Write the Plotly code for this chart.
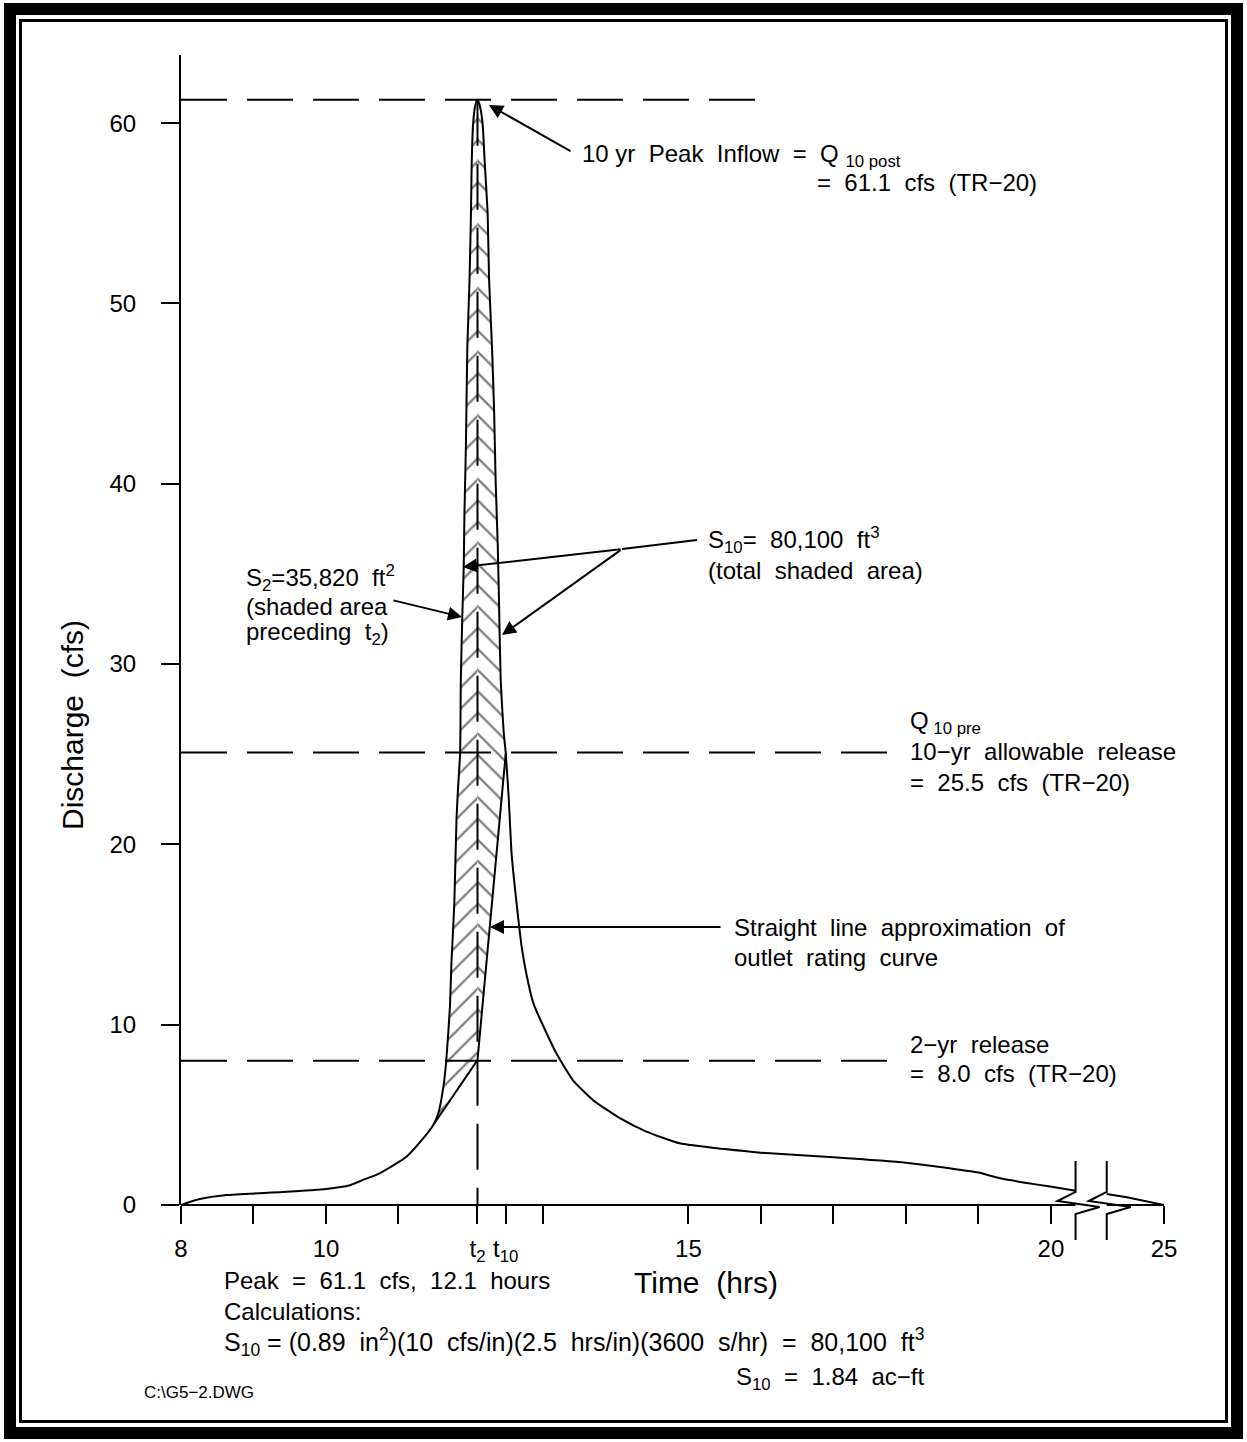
import plotly.graph_objects as go

# ---------------- data ----------------
# inflow hydrograph (real time in hours, discharge in cfs)
inflow_time = [8.0, 8.26, 8.63, 9.4, 10.0, 10.33, 10.51, 10.74, 11.11, 11.3, 11.48, 11.55,
               11.62, 11.66, 11.71, 11.73, 11.77, 11.80, 11.82, 11.85, 11.86, 11.88, 11.90,
               11.91, 11.92, 11.93, 11.95, 11.98, 12.00, 12.01, 12.03, 12.06, 12.09, 12.12,
               12.16, 12.19, 12.23, 12.25, 12.29, 12.32, 12.34, 12.37, 12.39, 12.41, 12.45,
               12.48, 12.52, 12.54, 12.56, 12.63, 12.70, 12.77, 12.86, 13.00, 13.18, 13.41,
               13.69, 14.06, 14.42, 14.88, 15.5, 16.0, 17.0, 18.0, 18.5, 19.0, 19.3, 19.64,
               19.99, 20.34]
inflow_q = [0.0, 0.33, 0.55, 0.72, 0.89, 1.1, 1.39, 1.76, 2.68, 3.5, 4.44, 5.09,
            6.56, 8.04, 11.0, 13.4, 16.7, 21.35, 23.0, 25.05, 29.1, 32.6, 35.4,
            38.4, 40.2, 42.1, 47.6, 51.3, 55.0, 57.8, 60.0, 61.0, 61.3, 61.0,
            60.0, 57.8, 55.0, 51.3, 47.6, 43.9, 40.2, 36.5, 32.8, 29.1, 26.3,
            25.05, 22.6, 21.0, 19.5, 16.7, 14.3, 12.7, 11.2, 9.9, 8.4, 6.9,
            5.8, 4.8, 4.07, 3.42, 3.1, 2.9, 2.65, 2.35, 2.1, 1.8, 1.48, 1.24,
            1.02, 0.79]
# tail of hydrograph after the axis break
tail_time = [24.0, 24.35, 25.0]
tail_q = [0.61, 0.43, 0.0]

# straight line approximation of outlet rating curve
outflow_time = [11.48, 12.09, 12.48]
outflow_q = [4.44, 8.04, 25.05]

T2 = 12.09
T10 = 12.48
Q_PEAK = 61.3
Q10_PRE = 25.1
Q2_REL = 8.0

x_tick_times = [8, 9, 10, 11, T2, T10, 13, 15, 16, 17, 18, 19, 20, 25]
x_tick_labels = ["8", "", "10", "", "t<sub>2</sub>", "t<sub>10</sub>", "", "15", "", "", "", "", "20", "25"]
y_ticks = [0, 10, 20, 30, 40, 50, 60]

# ---------------- axis break mapping ----------------
BREAK_START = 20.34      # last real time before the break (axis position = time)
BREAK_REAL_END = 24.0    # first real time after the break
BREAK_POS_END = 20.77    # axis position of first time after break
END_REAL = 25.0
END_POS = 21.56


def pos(t):
    if t <= BREAK_START + 1e-9:
        return t
    return BREAK_POS_END + (t - BREAK_REAL_END) * (END_POS - BREAK_POS_END) / (END_REAL - BREAK_REAL_END)


# ---------------- layout geometry ----------------
W, H = 1247, 1442
ML, MR, MT, MB = 181, 83, 55, 237
PW, PH = W - ML - MR, H - MT - MB
X_MIN, X_MAX = 8.0, END_POS
Y_MIN, Y_MAX = 0.0, 63.78


def px(x):
    return (x - ML) / PW


def py(y):
    return (H - MB - y) / PH


def xpix(t_axis):
    return ML + (t_axis - X_MIN) / (X_MAX - X_MIN) * PW


FONT = "Liberation Sans, Arial, sans-serif"
FS = 24
BLACK = "#000000"

fig = go.Figure()

# ---- shaded storage areas ----
left_t = [t for t in inflow_time if outflow_time[0] <= t <= T2]
left_q = [q for t, q in zip(inflow_time, inflow_q) if outflow_time[0] <= t <= T2]
left_t += [outflow_time[1], outflow_time[0]]
left_q += [outflow_q[1], outflow_q[0]]
fig.add_trace(go.Scatter(x=left_t, y=left_q, mode="lines", fill="toself",
                         line=dict(width=0, color="rgba(0,0,0,0)"),
                         fillcolor="white",
                         fillpattern=dict(shape="/", size=15, solidity=0.15,
                                          fgcolor="#000000", bgcolor="white"),
                         hoverinfo="skip", showlegend=False))
right_t = [t for t in inflow_time if T2 <= t <= T10]
right_q = [q for t, q in zip(inflow_time, inflow_q) if T2 <= t <= T10]
right_t += [outflow_time[1]]
right_q += [outflow_q[1]]
fig.add_trace(go.Scatter(x=right_t, y=right_q, mode="lines", fill="toself",
                         line=dict(width=0, color="rgba(0,0,0,0)"),
                         fillcolor="white",
                         fillpattern=dict(shape="\\", size=15, solidity=0.15,
                                          fgcolor="#000000", bgcolor="white"),
                         hoverinfo="skip", showlegend=False))

# ---- horizontal dashed reference lines ----
DASH = "46px,20px"
fig.add_trace(go.Scatter(x=[8.0, 15.99], y=[Q_PEAK, Q_PEAK], mode="lines",
                         line=dict(color=BLACK, width=2, dash=DASH), showlegend=False))
fig.add_trace(go.Scatter(x=[8.0, 17.88], y=[Q10_PRE, Q10_PRE], mode="lines",
                         line=dict(color=BLACK, width=2, dash=DASH), showlegend=False))
fig.add_trace(go.Scatter(x=[8.0, 17.88], y=[Q2_REL, Q2_REL], mode="lines",
                         line=dict(color=BLACK, width=2, dash=DASH), showlegend=False))
# vertical dashed line at t2 (spine of hatching)
fig.add_trace(go.Scatter(x=[T2, T2], y=[Q_PEAK, 0], mode="lines",
                         line=dict(color=BLACK, width=2, dash="46px,18px"), showlegend=False))

# ---- hydrograph ----
fig.add_trace(go.Scatter(x=[pos(t) for t in inflow_time], y=inflow_q, mode="lines",
                         line=dict(color=BLACK, width=2, shape="spline", smoothing=0.5),
                         showlegend=False))
fig.add_trace(go.Scatter(x=[pos(t) for t in tail_time], y=tail_q, mode="lines",
                         line=dict(color=BLACK, width=2), showlegend=False))
# outlet rating straight-line approximation
fig.add_trace(go.Scatter(x=outflow_time, y=outflow_q, mode="lines",
                         line=dict(color=BLACK, width=2), showlegend=False))

shapes = []
# x axis line with break
xb1 = xpix(pos(BREAK_START))
xb2 = xpix(pos(BREAK_REAL_END))
y_axis_px = H - MB
shapes.append(dict(type="line", xref="paper", yref="paper", x0=px(ML), x1=px(xb1),
                   y0=py(y_axis_px), y1=py(y_axis_px), line=dict(color=BLACK, width=2)))
shapes.append(dict(type="line", xref="paper", yref="paper", x0=px(xb2), x1=px(xpix(END_POS)),
                   y0=py(y_axis_px), y1=py(y_axis_px), line=dict(color=BLACK, width=2)))
# break symbols
for xb in (xb1, xb2):
    pts = [(xb, y_axis_px - 44), (xb, y_axis_px - 13), (xb - 18, y_axis_px - 4),
           (xb + 24, y_axis_px + 2), (xb, y_axis_px + 9), (xb, y_axis_px + 35)]
    path = "M " + " L ".join(f"{px(a):.5f},{py(b):.5f}" for a, b in pts)
    shapes.append(dict(type="path", xref="paper", yref="paper", path=path,
                       line=dict(color=BLACK, width=2)))

# frame
shapes.append(dict(type="rect", xref="paper", yref="paper", x0=px(10), x1=px(W - 10),
                   y0=py(H - 9), y1=py(9), line=dict(color=BLACK, width=12)))
shapes.append(dict(type="rect", xref="paper", yref="paper", x0=px(20.5), x1=px(W - 20.5),
                   y0=py(H - 20.5), y1=py(20.5), line=dict(color=BLACK, width=3)))
# S10 leader line from label to junction
shapes.append(dict(type="line", xref="paper", yref="paper", x0=px(697), y0=py(540),
                   x1=px(622), y1=py(549), line=dict(color=BLACK, width=2)))

annotations = []


def txt(s, x, y, size=FS, xanchor="left", yanchor="middle", angle=0):
    annotations.append(dict(text=s, x=px(x), y=py(y), xref="paper", yref="paper",
                            xanchor=xanchor, yanchor=yanchor, showarrow=False,
                            textangle=angle, font=dict(family=FONT, size=size, color=BLACK)))


def arrow(tip, tail):
    annotations.append(dict(text="", x=px(tip[0]), y=py(tip[1]), xref="paper", yref="paper",
                            ax=tail[0] - tip[0], ay=tail[1] - tip[1], axref="pixel", ayref="pixel",
                            showarrow=True, arrowhead=2, arrowsize=1.4, arrowwidth=2,
                            arrowcolor=BLACK, standoff=0))


txt("10 yr  Peak  Inflow  =  Q <sub>10 post</sub>", 580, 155)
txt("=  61.1  cfs  (TR−20)", 815, 182)
arrow((489, 105), (572, 152))

txt("S<sub>10</sub>=  80,100  ft<sup>3</sup>", 706, 540)
txt("(total  shaded  area)", 706, 570)
arrow((463, 567), (622, 549))
arrow((502, 635), (622, 549))

txt("S<sub>2</sub>=35,820  ft<sup>2</sup>", 244, 578)
txt("(shaded area", 244, 606)
txt("preceding  t<sub>2</sub>)", 244, 634)
arrow((462, 617), (392, 600))

txt("Q<sub> 10 pre</sub>", 908, 722)
txt("10−yr  allowable  release", 908, 752)
txt("=  25.5  cfs  (TR−20)", 908, 782)

txt("Straight  line  approximation  of", 732, 927)
txt("outlet  rating  curve", 732, 957)
arrow((490, 927), (722, 927))

txt("2−yr  release", 908, 1044)
txt("=  8.0  cfs  (TR−20)", 908, 1073)

txt("Peak  =  61.1  cfs,  12.1  hours", 222, 1281)
txt("Time  (hrs)", 706, 1282, size=30, xanchor="center")
txt("Calculations:", 222, 1311)
txt("S<sub>10</sub> = (0.89  in<sup>2</sup>)(10  cfs/in)(2.5  hrs/in)(3600  s/hr)  =  80,100  ft<sup>3</sup>",
    222, 1342, size=25)
txt("S<sub>10</sub>  =  1.84  ac−ft", 926, 1378, xanchor="right")
txt("C:\\G5−2.DWG", 142, 1392, size=17)
txt("Discharge  (cfs)", 72, 725, size=30, xanchor="center", angle=-90)

fig.update_layout(
    width=W, height=H, autosize=False,
    margin=dict(l=ML, r=MR, t=MT, b=MB, pad=0),
    paper_bgcolor="white", plot_bgcolor="white",
    showlegend=False,
    shapes=shapes, annotations=annotations,
    xaxis=dict(range=[X_MIN, X_MAX], showgrid=False, zeroline=False, showline=False,
               tickmode="array", tickvals=[pos(t) for t in x_tick_times], ticktext=x_tick_labels,
               ticks="outside", ticklen=18, tickwidth=2, tickcolor=BLACK,
               tickfont=dict(family=FONT, size=FS, color=BLACK), ticklabelstandoff=4),
    yaxis=dict(range=[Y_MIN, Y_MAX], showgrid=False, zeroline=False, showline=True,
               linecolor=BLACK, linewidth=2,
               tickmode="array", tickvals=y_ticks, ticktext=[str(v) for v in y_ticks],
               ticks="outside", ticklen=18, tickwidth=2, tickcolor=BLACK,
               tickfont=dict(family=FONT, size=FS, color=BLACK), ticklabelstandoff=20),
)

fig.write_html("out.html", config={"displayModeBar": False},
               post_script="document.body.style.margin='0';")
